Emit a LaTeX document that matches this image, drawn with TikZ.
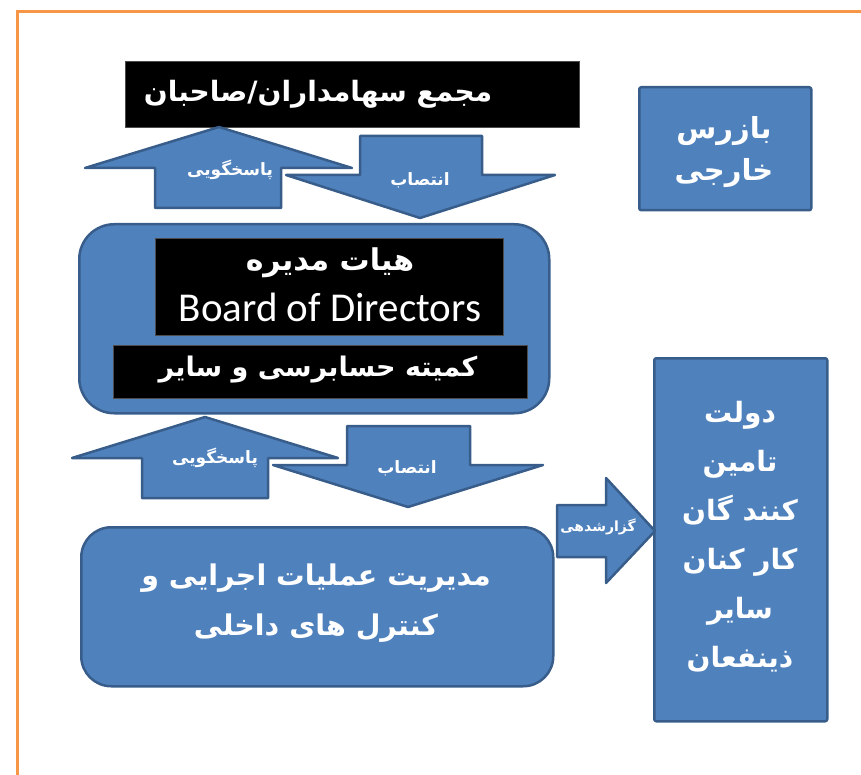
\documentclass[tikz,border=0pt]{standalone}
\usepackage{fontspec}
\setmainfont{Carlito}
\newfontfamily\farsifont[Script=Arabic]{DejaVu Sans}
\TeXXeTstate=1
\usetikzlibrary{calc}
\definecolor{boxblue}{HTML}{4F81BD}
\definecolor{boxborder}{HTML}{385D8A}
\definecolor{frameorange}{HTML}{F79646}
\newcommand{\fa}[1]{{\farsifont\bfseries\beginR #1\endR}}

\begin{document}
\begin{tikzpicture}[x=1pt, y=-1pt,
        blue shape/.style={draw=boxborder, line width=2.5pt, fill=boxblue, line join=round},
        black box/.style={fill=black, draw=black!70, line width=0.8pt, inner sep=0pt},
        big text/.style={text=white, font=\fontsize{#1}{50}\selectfont, align=center, inner sep=0pt},
        arrow text/.style={text=white, font=\fontsize{17}{20}\selectfont, inner sep=0pt}
    ]
    \useasboundingbox (0,0) rectangle (861,775);
    % orange frame
    \draw[frameorange, line width=3pt] (17,775) -- (17,12) -- (861,12);

    % owners
    \node[black box, anchor=north west, minimum width=454, minimum height=66] (owners) at (125,61) {};
    \node[big text=28] (ownerstext) at (318,94) {\fa{مجمع سهامداران/صاحبان}};

    % external auditor
    \node[blue shape, rounded corners=2pt, anchor=north west, minimum width=172, minimum height=123] (auditor) at (638,86) {};
    \node[big text=29, font=\fontsize{29}{42}\selectfont] (auditortext) at (724,152) {\fa{بازرس}\\\fa{خارجی}};

    % top pair of arrows
    \draw[blue shape] (360,136) -- (482,136) -- (482,175) -- (555,175) -- (420,218) -- (286,175) -- (360,175) -- cycle;
    \draw[blue shape] (219,127) -- (352,168) -- (281,168) -- (281,208) -- (155,208) -- (155,168) -- (85,168) -- cycle;
    \node[arrow text] (answer1) at (230,170) {\fa{پاسخگویی}};
    \node[arrow text] (appoint1) at (420,180) {\fa{انتصاب}};

    % board
    \node[blue shape, rounded corners=35pt, anchor=north west, minimum width=470, minimum height=189] (board) at (78,223) {};
    \node[black box, anchor=north west, minimum width=348, minimum height=97] (directors) at (155,238) {};
    \node[big text=30] (boardfa) at (330,263) {\fa{هیات مدیره}};
    \node[text=white, font=\fontsize{41}{48}\selectfont, inner sep=0pt] (boarden) at (330,307) {Board of Directors};
    \node[black box, anchor=north west, minimum width=414, minimum height=53] (committee) at (113,345) {};
    \node[big text=27] (committeetext) at (318,370) {\fa{کمیته حسابرسی و سایر}};

    % lower pair of arrows
    \draw[blue shape] (347,426) -- (470,426) -- (470,465) -- (543,465) -- (408,507) -- (273,465) -- (347,465) -- cycle;
    \draw[blue shape] (205,417) -- (338,458) -- (268,458) -- (268,498) -- (142,498) -- (142,458) -- (72,458) -- cycle;
    \node[arrow text] (answer2) at (215,458) {\fa{پاسخگویی}};
    \node[arrow text] (appoint2) at (407,468) {\fa{انتصاب}};

    % management
    \node[blue shape, rounded corners=30pt, anchor=north west, minimum width=472, minimum height=159] (management) at (80,526) {};
    \node[big text=28.5] (managementtext) at (316,603) {\fa{مدیریت عملیات اجرایی و}\\\fa{کنترل های داخلی}};

    % stakeholders
    \node[blue shape, rounded corners=2pt, anchor=north west, minimum width=173, minimum height=363] (stakeholders) at (653,357) {};
    \node[big text=28, font=\fontsize{28}{49}\selectfont] (stakeholderstext) at (740,537) {\fa{دولت}\\\fa{تامین}\\\fa{کنند گان}\\\fa{کار کنان}\\\fa{سایر}\\\fa{ذینفعان}};

    % reporting arrow
    \draw[blue shape] (557,505) -- (606,505) -- (606,478) -- (655,531) -- (606,583) -- (606,557) -- (557,557) -- cycle;
    \node[arrow text, font=\fontsize{14}{18}\selectfont] (report) at (598,527) {\fa{گزارشدهی}};
\end{tikzpicture}
\end{document}
